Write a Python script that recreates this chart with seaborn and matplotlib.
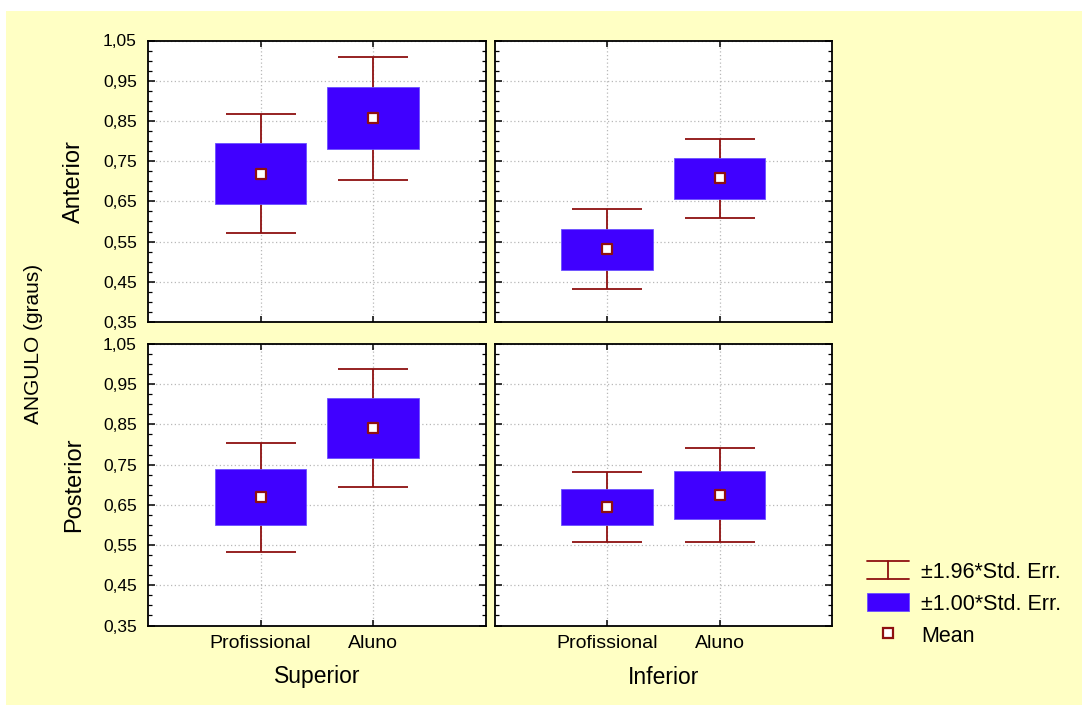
import matplotlib
matplotlib.use("Agg")
import matplotlib.pyplot as plt
from matplotlib.patches import Rectangle, Patch
from matplotlib.lines import Line2D
from matplotlib.legend_handler import HandlerBase
from matplotlib.ticker import FixedLocator, FuncFormatter
import numpy as np
import pandas as pd
import seaborn as sns

# ---------------- data ----------------
columns = ["Superior", "Inferior"]
rows = ["Anterior", "Posterior"]
groups = ["Profissional", "Aluno"]

mean_anterior_superior = [0.719, 0.857]
se_anterior_superior = [0.075, 0.078]
mean_anterior_inferior = [0.531, 0.707]
se_anterior_inferior = [0.051, 0.050]
mean_posterior_superior = [0.669, 0.841]
se_posterior_superior = [0.069, 0.075]
mean_posterior_inferior = [0.645, 0.674]
se_posterior_inferior = [0.044, 0.060]

y_ticks = [0.35, 0.45, 0.55, 0.65, 0.75, 0.85, 0.95, 1.05]
y_label = "ANGULO (graus)"
legend_labels = ["±1.96*Std. Err.", "±1.00*Std. Err.", "Mean"]

records = []
for r, c, m, s in [
    ("Anterior", "Superior", mean_anterior_superior, se_anterior_superior),
    ("Anterior", "Inferior", mean_anterior_inferior, se_anterior_inferior),
    ("Posterior", "Superior", mean_posterior_superior, se_posterior_superior),
    ("Posterior", "Inferior", mean_posterior_inferior, se_posterior_inferior),
]:
    for i, g in enumerate(groups):
        records.append(dict(row=r, col=c, group=g, pos=i, mean=m[i], se=s[i]))
df = pd.DataFrame(records)

# ---------------- style ----------------
sns.set_style("ticks")
plt.rcParams["font.family"] = ["Liberation Sans", "DejaVu Sans"]
plt.rcParams["text.color"] = "black"
plt.rcParams["axes.labelcolor"] = "black"
plt.rcParams["xtick.color"] = "black"
plt.rcParams["ytick.color"] = "black"

BOX = "#4000FF"
RED = "#8E1010"
BG = "#FFFFC4"

W, H = 1082, 705
fig = plt.figure(figsize=(W / 100, H / 100), dpi=100)
fig.patch.set_facecolor("white")
fig.add_artist(Rectangle((6 / W, 0), 1, 1 - 11 / H, transform=fig.transFigure,
                         facecolor=BG, edgecolor="none", zorder=-10))

col_left = {"Superior": 148, "Inferior": 494.5}
col_w = 337.5
row_top = {"Anterior": 40.5, "Posterior": 344}
row_h = 281.5

fmt = FuncFormatter(lambda v, p: f"{v:.2f}".replace(".", ","))

for r in rows:
    for c in columns:
        ax = fig.add_axes([col_left[c] / W, 1 - (row_top[r] + row_h) / H, col_w / W, row_h / H])
        ax.set_facecolor("white")
        sub = df[(df.row == r) & (df.col == c)]
        x = sub["pos"].to_numpy()
        m = sub["mean"].to_numpy()
        s = sub["se"].to_numpy()
        ax.errorbar(x, m, yerr=1.96 * s, fmt="none", ecolor=RED, elinewidth=1.3,
                    capsize=25, capthick=1.3, zorder=2)
        ax.bar(x, 2 * s, bottom=m - s, width=0.81, color=BOX, edgecolor="#6A50FF",
               linewidth=0.6, zorder=3)
        sns.scatterplot(data=sub, x="pos", y="mean", marker="s", s=42, color="white",
                        edgecolor=RED, linewidth=1.6, ax=ax, zorder=4, legend=False)
        ax.set_xlim(-1, 2)
        ax.set_ylim(0.35, 1.05)
        ax.xaxis.set_major_locator(FixedLocator([0, 1]))
        ax.yaxis.set_major_locator(FixedLocator(y_ticks))
        ax.yaxis.set_minor_locator(FixedLocator(np.arange(0.35, 1.0501, 0.025)))
        ax.yaxis.set_major_formatter(fmt)
        ax.grid(True, which="major", linestyle=(0, (1, 2)), color="#b8b8b8", linewidth=0.9, zorder=0)
        ax.set_axisbelow(True)
        ax.tick_params(axis="y", which="major", direction="in", left=True, right=True,
                       length=5, width=1.1, labelsize=12.5, pad=8, colors="black")
        ax.tick_params(axis="y", which="minor", direction="in", left=True, right=True,
                       length=3, width=0.9, colors="black")
        ax.tick_params(axis="x", which="major", direction="in", top=True, bottom=True,
                       length=4, width=1.1, labelsize=14, pad=7, colors="black")
        ax.set_xlabel("")
        ax.set_ylabel("")
        for sp in ax.spines.values():
            sp.set_color("black")
            sp.set_linewidth(1.3)
        if c != "Superior":
            ax.tick_params(axis="y", labelleft=False)
        if r == "Posterior":
            ax.set_xticklabels(groups)
        else:
            ax.tick_params(axis="x", labelbottom=False)

# column / row labels
fig.text((col_left["Superior"] + col_w / 2) / W, 1 - 677 / H, "Superior", ha="center", va="center", fontsize=16.5)
fig.text((col_left["Inferior"] + col_w / 2) / W, 1 - 677 / H, "Inferior", ha="center", va="center", fontsize=16.5)
fig.text(74 / W, 1 - (row_top["Anterior"] + row_h / 2) / H, "Anterior", rotation=90, ha="center", va="center", fontsize=17)
fig.text(74 / W, 1 - (row_top["Posterior"] + row_h / 2) / H, "Posterior", rotation=90, ha="center", va="center", fontsize=17)
fig.text(34 / W, 1 - 344 / H, y_label, rotation=90, ha="center", va="center", fontsize=15)


# legend
class ErrProxy:
    pass


class ErrHandler(HandlerBase):
    def create_artists(self, legend, orig_handle, xdescent, ydescent, width, height, fontsize, trans):
        x0, x1 = -xdescent, -xdescent + width
        y0, y1 = -ydescent, -ydescent + height
        xm = (x0 + x1) / 2
        arts = [Line2D([x0, x1], [y1, y1]), Line2D([x0, x1], [y0, y0]), Line2D([xm, xm], [y0, y1])]
        for a in arts:
            a.set_color(RED)
            a.set_linewidth(1.3)
            a.set_transform(trans)
        return arts


handles = [
    ErrProxy(),
    Patch(facecolor=BOX, edgecolor="#6A50FF", linewidth=0.6),
    Line2D([], [], marker="s", linestyle="none", markerfacecolor="white",
           markeredgecolor=RED, markersize=7.5, markeredgewidth=1.6),
]
fig.legend(handles, legend_labels, handler_map={ErrProxy: ErrHandler()},
           loc="center left", bbox_to_anchor=(867 / W, 1 - 604 / H),
           frameon=False, fontsize=15.5, handlelength=1.93, handleheight=0.88,
           handletextpad=0.6, labelspacing=0.5, borderpad=0, borderaxespad=0,
           labelcolor="black")

fig.savefig("out.png", dpi=100)
